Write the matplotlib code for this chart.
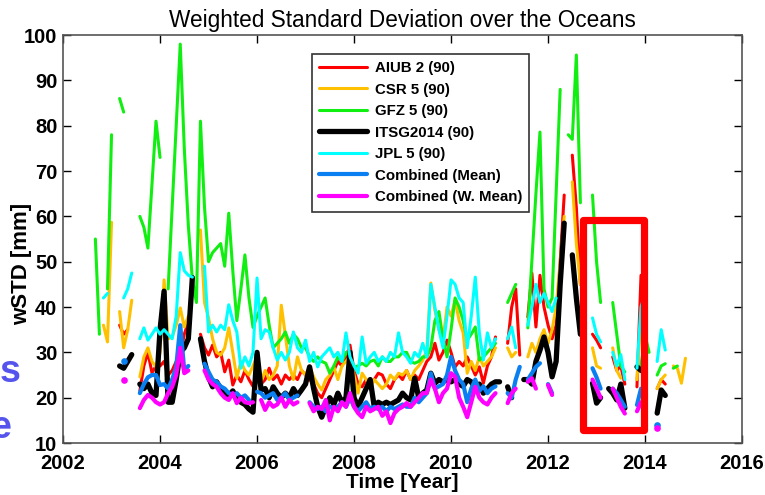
import numpy as np
import matplotlib
matplotlib.use("Agg")
import matplotlib.pyplot as plt
from matplotlib.patches import Rectangle

nan = np.nan

# monthly solutions, Sep 2002 .. Nov 2014 (one row per year)
aiub = [
    nan, nan, nan, nan,
    nan, nan, 36, 34, 35, nan, nan, 21.5, 27, 30, 25.5, 27,
    27, 28, 25, 26, 28, 29.5, 34, 36.7, nan, nan, 34, 31,
    29.4, 31.6, 29, 30, 25.7, 28.3, 22.8, 25, 23.5, 26, 24, 22.5,
    25, 23, 24, 26.5, 24, 25, 23, 25, 24, 25, 24, 26,
    25, 24, 23, 21, 20, 22, 24, 26, 28, 27, 29, 31.6,
    26, 23, 22.4, 24, 23, 24, 25.4, 25, 23, 22, 24, 25,
    24, 26, 24, 25, 24, 26, 28, 29, 32, 28.3, 30, 32.7,
    30, 26.8, 28, 27, 29, 27, 25, 26.8, 23.2, 27, 29, 33.4,
    nan, nan, 32, 40, 44, 29.4, nan, 37.8, 47.5, 35.6, 47, 40,
    36, 33, 36, 50, 64.7, nan, 73.5, 62, 45, nan, nan, 34,
    32.7, 31, nan, nan, 29, 26, 27, 23, nan, nan, 22.4, 47,
    24, nan, nan, 22, 24, 23, nan, nan, nan, nan, nan,
]
csr = [
    nan, nan, 36, 32.3,
    58.7, nan, 39, 31, 35, 41.5, nan, 24.6, 29, 31, 28, 26.8,
    30, 46, 33, 33.4, 36, 39.8, 35.6, 38, nan, nan, 57, 41,
    37.6, 33, 30, 29.4, 31, 35.4, 30, 24.3, 28, 26, 25, 27,
    29, 23.5, 26, 24, 25, 27, 40.4, 33.8, 27, 24, 29, 26,
    25, 27, 24.6, 23, 21.7, 24, 25, 26.8, 24, 27, 28, 29,
    25, 21, 25.4, 24, 22, 24, 23, 22, 23, 25, 24, 25.4,
    25, 26, 24, 26, 27, 28.3, 30.5, 45.3, 39.3, 35, 32.7, 40,
    38, 41.5, 37, 34.3, 25.4, 28, 26, 29, 27, 28, 29, 31,
    nan, nan, 31, 29, 30, nan, nan, 29, 32, 30, 33, 35,
    32, 35, 40, 50, 60, nan, 67.6, 54, 45, nan, nan, 31,
    27, 26.5, nan, nan, 31, 26, 24.3, nan, nan, nan, 24, 38,
    33, nan, nan, 22, 24, 25, nan, 27, 26.5, 23.2, 28.7,
]
gfz = [
    55, 34, nan, 44,
    78, nan, 86, 83, nan, nan, nan, 60, 57.6, 53, 67, 81,
    73, nan, 44, 62, 80, 98, 75, 58, 46, 41, 81, 62,
    50, 52, 53, 54, 49, 60.7, 48, 37, 44, 51.5, 42, 35.5,
    38, 40, 42, 36, 31, 32, 33, 34.5, 32, 34, 33, 31,
    31, 29, 28, 29, 28, 27.6, 25.4, 27, 29, 28, 30, 29,
    26.8, 27, 27.6, 27, 28, 28.3, 27, 29, 28, 28, 29, 29,
    30, 30, 28, 27.6, 28, 29, 29, 31, 37, 39, 33, 29,
    35, 42, 40, 37, 32.7, 34, 35.6, 28.3, 29, 30, 31, 32,
    nan, nan, 41, 43, 45, nan, nan, 35.4, 50, 65, 78.6, 44,
    40, 42, 65, 88, nan, 78, 77, 95.6, 63, nan, nan, 64.7,
    50, 41, nan, nan, 41, 34, 27, 25.7, nan, nan, 26.5, 27,
    33.8, 30, nan, 25, 27, 27.5, nan, 26.5, 27, nan, nan,
]
itsg = [
    nan, nan, nan, nan,
    nan, nan, 27, 26.5, 28, 29.5, nan, 23, 22, 23, 21, 20.5,
    35, 43.5, 19, 19, 24, 30, 31, 33, 46.5, nan, 33, 28,
    24.5, 22.4, 23.5, 22, 21, 20.5, 21.5, 20, 19, 18.5, 17.5, 16.8,
    30, 21.7, 22, 20, 22.4, 21, 20, 21, 20, 22, 20.5, 21.7,
    23, 26.8, 22, 18, 15.7, 18, 20, 18.5, 21, 19, 20, 30,
    20, 18, 20, 22, 24, 18, 19, 18.5, 19, 18.5, 19, 19.5,
    21, 20, 19.5, 24.3, 20, 21, 21.7, 25.4, 23.2, 24, 23.5, 24,
    23.5, 24, 23, 22.5, 24, 23.5, 22, 23, 21, 22, 23, 23.5,
    23.5, nan, 22.4, 20, nan, nan, 24, 24, 23, 28, 30.5, 33.4,
    30, 24.6, 28, 45, 58.5, nan, 51.5, 42, 34, nan, nan, 23.2,
    18.8, 20, nan, 22, 21, 19.5, 23, 17.7, nan, nan, 26.8, 26,
    27, nan, nan, 16.6, 21.7, 20.5, nan, nan, nan, nan, nan,
]
jpl = [
    nan, nan, 42, 43,
    nan, nan, nan, 42, 44, 47.5, nan, 33, 35.4, 32.7, 34, 35.4,
    34, 35, 34, 33, 38, 52, 48, 47, 46.6, nan, nan, 49,
    34.5, 36, 34.5, 36, 35, 40.5, 37, 34.5, 26.5, 29, 27, 30,
    46.4, 33, 35, 34.5, 31, 28.3, 30, 28.3, 30, 34.5, 31, 30,
    32.7, 28, 30, 26.8, 29, 30, 31, 29, 30, 28, 34.3, 29,
    27, 25.4, 33.4, 27.6, 29, 30, 28, 29, 28, 30, 29, 34.3,
    30, 29, 27.6, 30, 29, 32, 29, 45, 40, 35, 31, 38,
    46, 45, 42, 41, 31, 38, 46.6, 34.3, 28.3, 34.3, 31, 33,
    nan, nan, 33, 35.6, 31, nan, nan, 36, 40, 45, 41, 43,
    41, 39, 42, nan, nan, nan, nan, nan, nan, nan, nan, 37.6,
    34, 32.3, nan, nan, 30, 27, 29.5, 24, nan, nan, 26.5, 40,
    43, nan, nan, 28, 35, 30.5, nan, nan, nan, nan, nan,
]
comb_mean = [
    nan, nan, nan, nan,
    nan, nan, nan, 28, nan, nan, nan, 21, 23, 24.5, 25, 25,
    22.8, 23, 22, 24, 26.8, 36, 26, 27, nan, nan, nan, 27.5,
    25.7, 24, 23.5, 22.5, 22, 21, 20.6, 21, 20, 20.5, 19.5, nan,
    21.3, 21, 20, 20.5, 21, 19.5, 20, 21, 19.5, 20, 20.5, nan,
    nan, 19, 18, 17.5, 18, 17, 18, 17.5, 18, 19, 18, 20,
    18, 17, 18, 19, 17.5, 18, 17.5, 18, 17, 18, 17.5, 18,
    18.5, 18, 18, 20, 19, 20, 21, 25.4, 22, 22.5, 23, 25,
    29, 26, 24, 23, 19, 22, 24, 21.5, 22.5, 21, 22, 22.5,
    nan, nan, 21, 20, 24, 26.8, nan, 24, 25.4, 26.8, 27.6, nan,
    23, 21, nan, nan, nan, nan, nan, nan, nan, nan, nan, 26.5,
    24.5, 22, nan, nan, 22, 21, 19.5, 18, nan, nan, 18.4, 22,
    nan, nan, nan, 14, nan, nan, nan, nan, nan, nan, nan,
]
comb_wmean = [
    nan, nan, nan, nan,
    nan, nan, nan, 24, nan, nan, nan, 17.7, 19.5, 20.6, 20, 19,
    18.5, 19, 21, 22.4, 25, 31, 25.4, 26, nan, nan, nan, 26,
    24, 23, 22.4, 21, 20, 19.5, 21, 18.8, 20, 19, 18.8, 19,
    nan, 19.5, 17.3, 19, 18, 18.5, 20, 18, 19.5, 18.5, 19, nan,
    nan, 18.8, 17, 18, 17.5, 19.5, 15, 18, 17, 19, 18, 21,
    18, 16.6, 15.7, 18, 17, 17.5, 18, 16, 17, 14.4, 16.6, 17.5,
    18, 18.8, 18, 19, 20, 21, 21, 24, 22, 19, 21, 22,
    25.4, 24.6, 20, 18, 15.7, 19, 22.4, 20, 19, 18.5, 20, 21,
    nan, nan, 18.8, 21, 22, nan, nan, 23.5, 24.3, 22, nan, nan,
    22.8, 20.6, nan, nan, nan, nan, nan, nan, nan, nan, nan, 24,
    22, 20, nan, nan, 22, 20, 18, 16.5, nan, nan, 17, 19,
    nan, nan, nan, 13.3, nan, nan, nan, nan, nan, nan, nan,
]

labels = ["AIUB 2 (90)", "CSR 5 (90)", "GFZ 5 (90)", "ITSG2014 (90)",
          "JPL 5 (90)", "Combined (Mean)", "Combined (W. Mean)"]
colors = ["#ff0000", "#ffc000", "#11ee11", "#000000",
          "#00ffff", "#0a7ff2", "#ff00ff"]
widths = [2.2, 2.2, 2.2, 3.8, 2.2, 3.0, 3.0]

# time axis: first of each month from Sep 2002
time = 2002 + 8 / 12 + np.arange(len(aiub)) / 12

plt.rcParams["font.family"] = ["Liberation Sans", "DejaVu Sans"]

fig = plt.figure(figsize=(7.65, 4.95), dpi=100)
ax = fig.add_axes([0.0824, 0.105, 0.8876, 0.8242])

series = [aiub, csr, gfz, itsg, jpl, comb_mean, comb_wmean]
for k, (vals, lab, col, lw) in enumerate(zip(series, labels, colors, widths)):
    y = np.array(vals, dtype=float)
    ax.plot(time, y, color=col, lw=lw, label=lab, zorder=2 + k,
            solid_capstyle="round", solid_joinstyle="round")
    # months without a neighbour still show as a dot
    ok = np.isfinite(y)
    prev = np.r_[False, ok[:-1]]
    nxt = np.r_[ok[1:], False]
    lone = ok & ~prev & ~nxt
    if lone.any():
        ax.plot(time[lone], y[lone], "o", color=col, ms=lw * 1.6,
                mec="none", zorder=2 + k)

ax.set_xlim(2002, 2016)
ax.set_ylim(10, 100)
ax.set_xticks(np.arange(2002, 2017, 2))
ax.set_yticks(np.arange(10, 101, 10))
ax.tick_params(direction="in", top=True, right=True, length=6, width=1,
               labelsize=14.5)
ax.tick_params(axis="x", pad=8)
ax.tick_params(axis="y", pad=4)
for lbl in ax.get_xticklabels() + ax.get_yticklabels():
    lbl.set_fontweight("bold")
for sp in ax.spines.values():
    sp.set_color("#555555")
    sp.set_linewidth(1.2)

ax.set_title("Weighted Standard Deviation over the Oceans", fontsize=16.3, pad=6)
ax.set_xlabel("Time [Year]", fontsize=15, fontweight="bold", labelpad=0)
ax.set_ylabel("wSTD [mm]", fontsize=16, fontweight="bold")
ax.yaxis.set_label_coords(-0.046, 0.44)

leg = ax.legend(loc="upper left", bbox_to_anchor=(0.355, 0.973),
                prop={"size": 10.8, "weight": "bold"}, handlelength=3.2,
                labelspacing=0.5, borderpad=0.5, handletextpad=0.5,
                fancybox=False, framealpha=1, edgecolor="#333333")
leg.get_frame().set_linewidth(1.2)
leg.set_zorder(20)

# highlighted 2013 window
box = Rectangle((2012.72, 12.9), 1.25, 46.4, fill=False, edgecolor="#ff0000",
                lw=5.2, joinstyle="round", zorder=30)
ax.add_patch(box)

# slide text cut off at the left border
fig.text(0.0, 0.228, "s", color="#5555ee", fontsize=27, fontweight="bold",
         ha="left", va="baseline")
fig.text(-0.012, 0.115, "e", color="#5555ee", fontsize=27, fontweight="bold",
         ha="left", va="baseline")

fig.savefig("out.png", dpi=100)
